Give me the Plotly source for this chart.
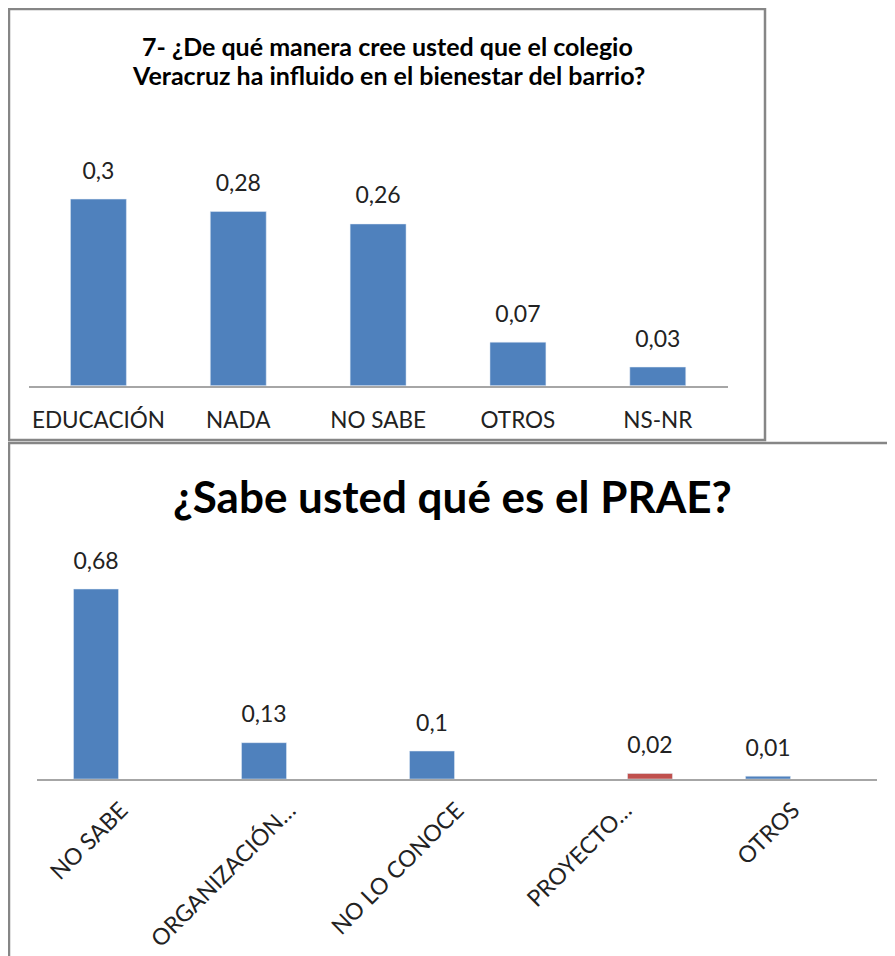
import plotly.graph_objects as go

# ---------------- data ----------------
top_title_l1 = "7- ¿De qué manera cree usted que el colegio"
top_title_l2 = "Veracruz ha influido en el bienestar del barrio?"
top_categories = ["EDUCACIÓN", "NADA", "NO SABE", "OTROS", "NS-NR"]
top_values = [0.30, 0.28, 0.26, 0.07, 0.03]

bottom_title = "¿Sabe usted qué es el PRAE?"
bottom_categories = ["NO SABE", "ORGANIZACIÓN…", "NO LO CONOCE", "PROYECTO…", "OTROS"]
bottom_series1 = [0.68, 0.13, 0.10, None, 0.01]
bottom_series2 = [None, None, None, 0.02, None]

BLUE = "#4F81BD"
RED = "#C0504D"
TXT = "#222222"
FONT = "Lato"
OFF = 8            # page body margin
W, H = 895 - OFF, 956 - OFF


def fmt(v):
    return "" if v is None else f"{v:g}".replace(".", ",")


def px_x(p):
    return (p - OFF) / W


def px_y(p):
    return 1 - (p - OFF) / H


label_font = dict(family=FONT, size=23, color=TXT)
ghost = dict(size=22, color="rgba(0,0,0,0)")

fig = go.Figure()

# ---- top chart ----
fig.add_trace(go.Bar(x=top_categories, y=top_values, marker_color=BLUE, width=0.4,
                     xaxis="x", yaxis="y", showlegend=False))
fig.add_trace(go.Scatter(x=top_categories, y=top_values, mode="markers+text",
                         text=[fmt(v) for v in top_values], textposition="top center",
                         marker=ghost, textfont=label_font, cliponaxis=False,
                         xaxis="x", yaxis="y", showlegend=False, hoverinfo="skip"))

# ---- bottom chart ----
fig.add_trace(go.Bar(x=bottom_categories, y=bottom_series1, marker_color=BLUE,
                     offsetgroup="s1", xaxis="x2", yaxis="y2", showlegend=False))
fig.add_trace(go.Bar(x=bottom_categories, y=bottom_series2, marker_color=RED,
                     offsetgroup="s2", xaxis="x2", yaxis="y2", showlegend=False))
fig.add_trace(go.Scatter(x=bottom_categories, y=bottom_series1, mode="markers+text",
                         text=[fmt(v) for v in bottom_series1], textposition="top center",
                         marker=ghost, textfont=label_font, cliponaxis=False,
                         orientation="v", offsetgroup="s1", alignmentgroup="b",
                         xaxis="x2", yaxis="y2", showlegend=False, hoverinfo="skip"))
fig.add_trace(go.Scatter(x=bottom_categories, y=bottom_series2, mode="markers+text",
                         text=[fmt(v) for v in bottom_series2], textposition="top center",
                         marker=ghost, textfont=label_font, cliponaxis=False,
                         orientation="v", offsetgroup="s2", alignmentgroup="b",
                         xaxis="x2", yaxis="y2", showlegend=False, hoverinfo="skip"))

axis_common = dict(showgrid=False, zeroline=False, showline=True, linecolor="#A6A6A6",
                   linewidth=1.5, ticks="", fixedrange=True)
yaxis_common = dict(visible=False, showgrid=False, zeroline=False, fixedrange=True)

fig.update_layout(
    width=W, height=H,
    margin=dict(l=0, r=0, t=0, b=0),
    paper_bgcolor="white", plot_bgcolor="white",
    barmode="group", bargap=0.405, bargroupgap=0.1,
    scattermode="group", scattergap=0.405,
    font=dict(family=FONT, color=TXT),
    xaxis=dict(domain=[px_x(28.5), px_x(727.7)], anchor="y",
               tickfont=dict(family=FONT, size=22.5, color=TXT),
               ticklabelstandoff=14, **axis_common),
    yaxis=dict(domain=[px_y(385.7), px_y(168)], range=[0, 0.35], anchor="x", **yaxis_common),
    xaxis2=dict(domain=[px_x(37), px_x(877)], anchor="y2", tickangle=-45,
                tickfont=dict(family=FONT, size=23, color=TXT),
                ticklabelstandoff=7, **axis_common),
    yaxis2=dict(domain=[px_y(779), px_y(555.5)], range=[0, 0.8], anchor="x2", **yaxis_common),
    annotations=[
        dict(text="<b>" + top_title_l1 + "</b>", x=px_x(387), y=px_y(46), xref="paper", yref="paper",
             xanchor="center", yanchor="middle", showarrow=False,
             font=dict(family=FONT, size=25, color="black")),
        dict(text="<b>" + top_title_l2 + "</b>", x=px_x(388), y=px_y(75), xref="paper", yref="paper",
             xanchor="center", yanchor="middle", showarrow=False,
             font=dict(family=FONT, size=25, color="black")),
        dict(text="<b>" + bottom_title + "</b>", x=px_x(452), y=px_y(496), xref="paper", yref="paper",
             xanchor="center", yanchor="middle", showarrow=False,
             font=dict(family=FONT, size=44, color="black")),
    ],
    shapes=[
        dict(type="rect", xref="paper", yref="paper", x0=px_x(9), x1=px_x(765),
             y0=px_y(440), y1=px_y(9), line=dict(color="#868686", width=2.5)),
        dict(type="rect", xref="paper", yref="paper", x0=px_x(9), x1=px_x(910),
             y0=px_y(975), y1=px_y(443), line=dict(color="#868686", width=2.5)),
    ],
)

fig.write_html("out.html")
